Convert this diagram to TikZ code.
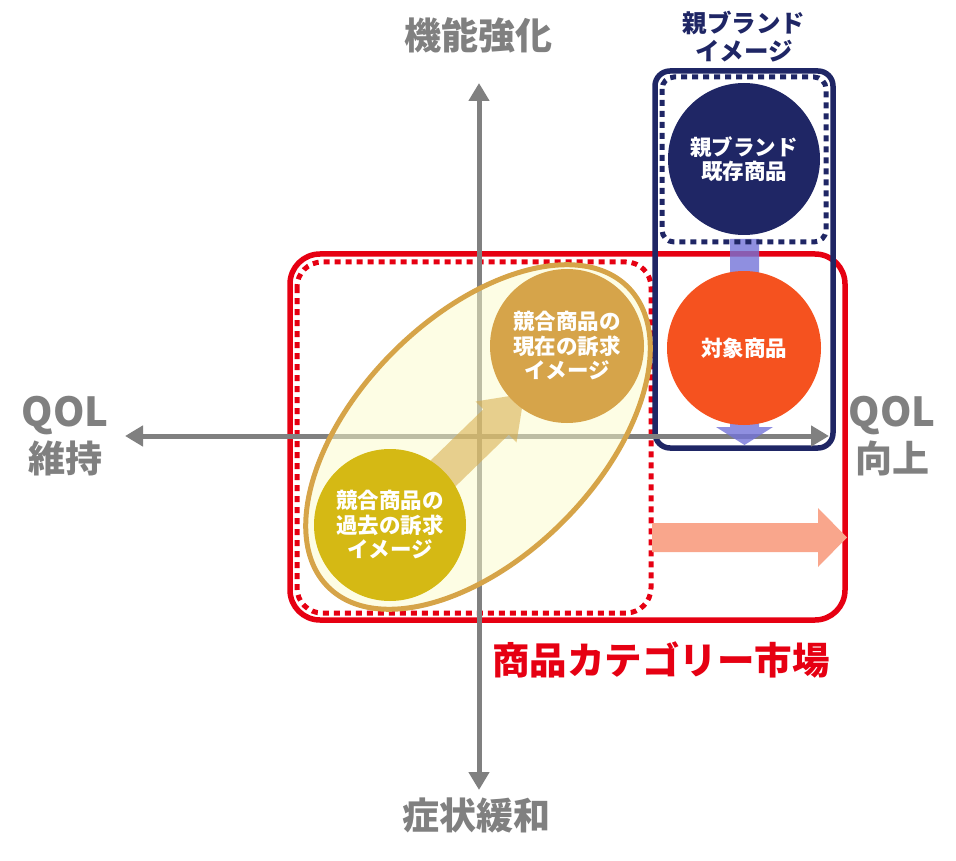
\documentclass[tikz,border=0pt]{standalone}
\usepackage{fontspec}
\setmainfont{Noto Sans CJK JP}
\usetikzlibrary{arrows.meta}
\definecolor{axisgrey}{RGB}{128,128,128}
\definecolor{navy}{RGB}{31,38,101}
\definecolor{brandorange}{RGB}{245,82,31}
\definecolor{mktred}{RGB}{230,0,18}
\definecolor{salmon}{RGB}{249,166,140}
\definecolor{purplearrow}{RGB}{115,115,216}
\definecolor{ellstroke}{RGB}{214,164,72}
\definecolor{ellfill}{RGB}{251,251,201}
\definecolor{pastyellow}{RGB}{213,185,20}
\definecolor{nowtan}{RGB}{214,164,74}
\definecolor{tanarrow}{RGB}{214,170,70}
\tikzset{
  axisline/.style={draw=axisgrey, line width=5pt, {Triangle[length=18pt,width=20pt]}-{Triangle[length=18pt,width=20pt]}},
  axislabel/.style={text=axisgrey, align=center, font=\fontsize{37}{46}\selectfont\bfseries, inner sep=0pt},
  bubble/.style={circle, inner sep=0pt, text=white, align=center, font=\fontsize{21.5}{24.5}\selectfont\bfseries},
  solidbox/.style={line width=5.5pt, rounded corners=#1},
  dotbox/.style={line width=5pt, dash pattern=on 6pt off 5pt, rounded corners=#1},
}
\begin{document}
\begin{tikzpicture}[x=1pt,y=-1pt]
\useasboundingbox (0,0) rectangle (956,861);

% market boxes
\draw[solidbox=30pt, draw=mktred] (290,254) rectangle (845,620);
\draw[dotbox=25pt, draw=mktred] (297,262) rectangle (651,613);
% parent brand box
\draw[solidbox=15pt, draw=navy] (655,71) rectangle (833,448);

% axes
\coordinate (top) at (479,83);
\coordinate (bottom) at (479,790);
\coordinate (left) at (125,436);
\coordinate (right) at (829,436);
\draw[axisline] (bottom) -- (top);
\draw[axisline] (left) -- (right);

% ellipse
\draw[ellstroke, line width=5pt, fill=ellfill, fill opacity=0.5, rotate around={45:(478,437)}]
  (478,437) ellipse [x radius=212, y radius=120];

% block arrows
\fill[tanarrow, opacity=0.55] (402.7,537.7) -- (508.7,434.7) -- (516.5,442.5) -- (524.3,393.7)
  -- (475.5,401.5) -- (483.3,409.3) -- (377.3,512.3) -- cycle;
\fill[salmon] (652,523) -- (818,523) -- (818,508) -- (847,537.5) -- (818,567) -- (818,552) -- (652,552) -- cycle;
\fill[purplearrow, opacity=0.8] (730,239) -- (759,239) -- (759,427) -- (773,427) -- (744.5,445) -- (716,427) -- (730,427) -- cycle;

% circles
\node[bubble, fill=navy, minimum size=152pt] (parent) at (744,159) {親ブランド\\既存商品};
\node[bubble, fill=brandorange, minimum size=154pt] (target) at (744,348) {対象商品};
\node[bubble, fill=pastyellow, minimum size=152pt] (past) at (390,525) {競合商品の\\過去の訴求\\イメージ};
\node[bubble, fill=nowtan, minimum size=154pt] (now) at (567,346) {競合商品の\\現在の訴求\\イメージ};

% parent brand image dotted box
\draw[dotbox=12pt, draw=navy] (662,77) rectangle (826,242);

% labels
\node[axislabel] (ltop) at (478,35) {機能強化};
\node[axislabel] (lbottom) at (476,815) {症状緩和};
\node[axislabel] (lleft) at (65,436) {{\fontsize{40}{46}\selectfont QOL}\\維持};
\node[axislabel] (lright) at (892,436) {{\fontsize{40}{46}\selectfont QOL}\\向上};
\node[text=navy, align=center, inner sep=0pt, font=\fontsize{24.5}{28}\selectfont\bfseries] (lparent) at (744,37) {親ブランド\\イメージ};
\node[text=mktred, inner sep=0pt, font=\fontsize{37.5}{44}\selectfont\bfseries] (lmarket) at (661,660) {商品カテゴリー市場};
\end{tikzpicture}
\end{document}
